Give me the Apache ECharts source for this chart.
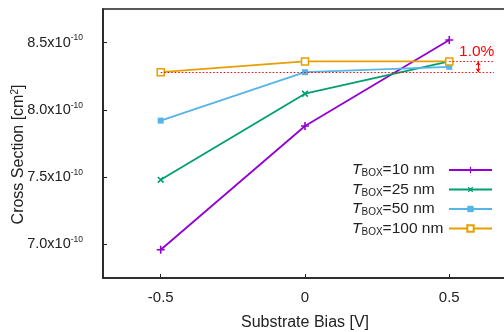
<!DOCTYPE html>
<html><head><meta charset="utf-8">
<script src="https://cdn.jsdelivr.net/npm/echarts@6/dist/echarts.min.js"></script>
<style>html,body{margin:0;padding:0;background:#fff}#c{width:504px;height:332px}</style>
</head><body><div id="c"></div>
<script>
// values in units of 1e-10 cm^2
const xValues = [-0.5, 0, 0.5];
const t10 = [6.96, 7.88, 8.52];
const t25 = [7.48, 8.12, 8.36];
const t50 = [7.92, 8.28, 8.32];
const t100 = [8.28, 8.36, 8.36];
const seriesNames = ['10 nm', '25 nm', '50 nm', '100 nm'];
const xTicks = [-0.5, 0, 0.5];
const yTicks = [7.0, 7.5, 8.0, 8.5];
const refLow = 8.28, refHigh = 8.36;
const refLowStart = -0.5, refHighStart = 0.5, refEnd = 0.655, arrowX = 0.6;
const annText = '1.0%';
const annPos = [0.595, 8.435];

const colors = ['#9400d3', '#009e73', '#56b4e9', '#e69f00'];
const plusPath = 'path://M4,0h2v10h-2z M0,4h10v2h-10z';
function pts(arr){ return xValues.map((x,i)=>[x,arr[i]]); }

const chart = echarts.init(document.getElementById('c'), null, {renderer:'canvas'});
const font = 'Liberation Sans, Arial, sans-serif';
const baseSeries = {type:'line', animation:false, z:3};
chart.setOption({
  animation:false,
  grid:{left:103, top:9, width:404, height:269, show:true, borderColor:'#222', borderWidth:1.5, outerBoundsMode:'none', containLabel:false},
  legend:{
    orient:'vertical', right:11, top:162, align:'right', itemWidth:43, itemHeight:8, itemGap:3, padding:0,
    data: seriesNames,
    formatter: n => '{t|T}{s|BOX}{n|=' + n + '}',
    textStyle:{fontFamily:font, color:'#222', width:92, rich:{
      t:{fontSize:15.5, fontStyle:'italic', fontFamily:font, color:'#222', align:'left'},
      s:{fontSize:10, fontFamily:font, color:'#222', padding:[7,0,0,0], align:'left'},
      n:{fontSize:15.5, fontFamily:font, color:'#222', align:'left'}
    }}
  },
  xAxis:{
    type:'value', min:-0.7, max:0.7,
    name:'Substrate Bias [V]', nameLocation:'middle', nameGap:37, nameMoveOverlap:false,
    nameTextStyle:{fontFamily:font, fontSize:16, color:'#222'},
    axisLine:{onZero:false, lineStyle:{color:'#222', width:1.6}},
    axisTick:{inside:true, length:4, customValues:xTicks, lineStyle:{color:'#222'}},
    axisLabel:{customValues:xTicks, margin:12, fontFamily:font, fontSize:15, color:'#222',
      formatter: v => (v===0?'0':String(v))},
    splitLine:{show:false}
  },
  yAxis:{
    type:'value', min:6.75, max:8.75,
    name:'Cross Section [cm{s|2}]', nameLocation:'middle', nameGap:75, nameRotate:90, nameMoveOverlap:false,
    nameTextStyle:{fontFamily:font, fontSize:16, color:'#222', padding:[0,22,0,0],
      rich:{s:{fontSize:10, color:'#222', fontFamily:font, padding:[0,0,8,0]}}},
    axisLine:{show:true, onZero:false, lineStyle:{color:'#222', width:1.6}},
    axisTick:{show:true, inside:true, length:4, customValues:yTicks, lineStyle:{color:'#222'}},
    axisLabel:{customValues:yTicks, margin:20, fontFamily:font, fontSize:14.5, color:'#222',
      formatter: v => '{a|' + v.toFixed(1) + 'x10}{b|-10}',
      rich:{a:{fontSize:14.5, fontFamily:font, color:'#222'}, b:{fontSize:8.5, fontFamily:font, color:'#222', padding:[0,0,9,0]}}},
    splitLine:{show:false}
  },
  series:[
    Object.assign({}, baseSeries, {name:seriesNames[0], data:pts(t10), color:colors[0],
      symbol:plusPath, symbolSize:8, lineStyle:{width:1.8, color:colors[0]}, itemStyle:{color:colors[0]}}),
    Object.assign({}, baseSeries, {name:seriesNames[1], data:pts(t25), color:colors[1],
      symbol:plusPath, symbolSize:8, symbolRotate:45, lineStyle:{width:1.8, color:colors[1]}, itemStyle:{color:colors[1]}}),
    Object.assign({}, baseSeries, {name:seriesNames[2], data:pts(t50), color:colors[2],
      symbol:'rect', symbolSize:6, lineStyle:{width:1.8, color:colors[2]}, itemStyle:{color:colors[2]}}),
    Object.assign({}, baseSeries, {name:seriesNames[3], data:pts(t100), color:colors[3],
      symbol:'rect', symbolSize:7, lineStyle:{width:1.8, color:colors[3]}, itemStyle:{color:'#fff', borderColor:colors[3], borderWidth:1.5}}),
    {type:'line', data:[], silent:true, z:2,
      markLine:{silent:true, symbol:'none', animation:false, label:{show:false},
        lineStyle:{color:'#ff0000', type:[1.5,2], width:1.2},
        data:[
          [{coord:[refLowStart, refLow]}, {coord:[refEnd, refLow]}],
          [{coord:[refHighStart, refHigh]}, {coord:[refEnd, refHigh]}],
          [{coord:[arrowX, refHigh], symbol:'arrow', symbolSize:[4,4], lineStyle:{type:'solid', width:1}},
           {coord:[arrowX, refLow], symbol:'arrow', symbolSize:[4,4]}]
        ]},
      markPoint:{silent:true, animation:false, symbol:'circle', symbolSize:0,
        data:[{coord:annPos, label:{show:true, position:'inside', formatter:annText,
          fontFamily:font, fontSize:15.5, color:'#ff0000'}}]}
    }
  ]
});
</script></body></html>
